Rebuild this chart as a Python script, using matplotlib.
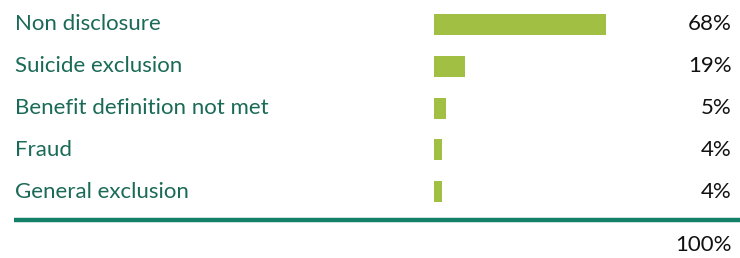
import matplotlib
matplotlib.use("Agg")
import matplotlib.pyplot as plt
from matplotlib.transforms import blended_transform_factory
from matplotlib.lines import Line2D

categories = ["Non disclosure", "Suicide exclusion", "Benefit definition not met",
              "Fraud", "General exclusion"]
pct_labels = ["68%", "19%", "5%", "4%", "4%"]
bar_lengths = [68, 12.6, 5.1, 3.2, 3.2]   # bar lengths as drawn in the picture (%)
total_label = "100%"

W, H = 740, 258
fig = plt.figure(figsize=(W / 100, H / 100), dpi=100)
plt.rcParams['font.family'] = ['Lato', 'DejaVu Sans']

row0, step = 24.5, 41.75  # pixel centre of first row, row spacing
px_per_pct = 2.53
x0 = 433
ax = fig.add_axes([x0 / W, 0, (W - x0) / W, 1])
ax.set_xlim(0, (W - x0) / px_per_pct)
ax.set_ylim((H - row0) / step, -row0 / step)
ax.axis("off")

ypos = list(range(len(categories)))
ax.barh(ypos, bar_lengths, height=21 / step, color="#A1BF42", left=0.2)

tr = blended_transform_factory(fig.transFigure, ax.transData)
text_color = "#1A6A57"
for y, cat, lab in zip(ypos, categories, pct_labels):
    ax.text(15 / W, y, cat, transform=tr, ha="left", va="center",
            fontsize=16, color=text_color)
    ax.text(732 / W, y, lab, transform=tr, ha="right", va="center",
            fontsize=16, color="#111111")

line_y = (220 - row0) / step
ax.add_line(Line2D([14 / W, 1.0], [line_y, line_y], transform=tr,
                   color="#14806A", linewidth=3.2, solid_capstyle="butt",
                   clip_on=False))
ax.text(732 / W, (245 - row0) / step, total_label, transform=tr, ha="right",
        va="center", fontsize=16, color="#111111")

fig.savefig("out.png", dpi=100)
